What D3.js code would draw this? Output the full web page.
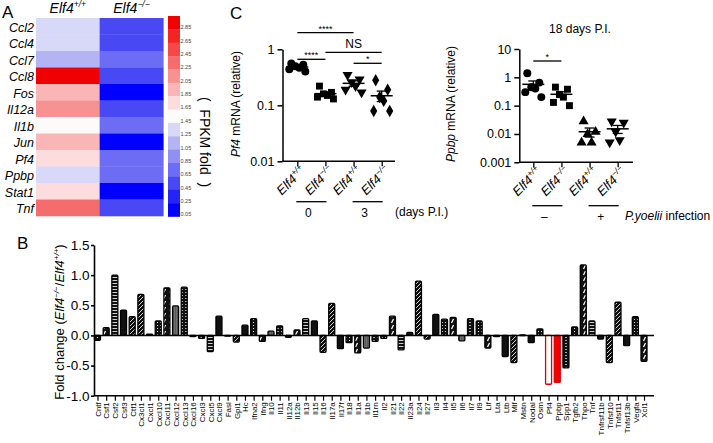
<!DOCTYPE html>
<html><head><meta charset="utf-8">
<script src="https://cdn.jsdelivr.net/npm/d3@7"></script>
<style>
body{margin:0;background:#fff;}
svg{font-family:Arial,"Liberation Sans",sans-serif;}
svg text{fill:#000;}
</style></head><body>
<svg id="chart" width="713" height="443"></svg>
<script>
// ---------------- Panel A data ----------------
const heatGenes = ["Ccl2","Ccl4","Ccl7","Ccl8","Fos","Il12a","Il1b","Jun","Pf4","Ppbp","Stat1","Tnf"];
const heatCols = ["+/+","−/−"];
const heatWT = [1.25,1.25,1.05,2.85,1.85,2.05,1.45,1.85,1.65,1.25,1.65,2.25];
const heatKO = [0.45,0.45,0.65,0.45,0.05,0.45,0.65,0.05,0.65,0.65,0.05,0.45];
const colorLevels = [2.85,2.65,2.45,2.25,2.05,1.85,1.65,1.45,1.25,1.05,0.85,0.65,0.45,0.25,0.05];
const colorSteps = ["#f00000","#f42424","#f54848","#f56c6c","#f79292","#fab6b6","#fcdcdc","#fdfafa","#d8d8f8","#b4b4f4","#9090f2","#6c6cf4","#4848f4","#2424f8","#0000ff"];

// ---------------- Panel B data ----------------
const genesB = ["Cntf","Csf1","Csf2","Csf3","Ctf1","Cx3cl1","Cxcl1","Cxcl10","Cxcl11","Cxcl12","Cxcl13","Cxcl16","Cxcl3","Cxcl5","Cxcl9","Fasl","Gpi1","Hc","Ifna2","Ifng","Il10","Il11","Il12a","Il12b","Il13","Il15","Il16","Il17a","Il17f","Il18","Il1a","Il1b","Il1rn","Il2","Il21","Il22","Il23a","Il24","Il27","Il3","Il4","Il5","Il6","Il7","Il9","Lif","Lta","Ltb","Mif","Mstn","Nodal","Osm","Pf4","Ppbp","Spp1","Tgfb2","Thpo","Tnf","Tnfrsf11b","Tnfsf10","Tnfsf11","Tnfsf13b","Vegfa","Xcl1"];
const foldB = [-0.08,0.13,1.0,0.42,0.31,0.68,0.02,0.24,0.79,0.49,0.80,-0.02,-0.05,-0.27,0.32,-0.01,-0.11,0.17,0.28,-0.10,0.07,0.16,-0.03,0.09,0.28,0.24,-0.28,0.53,-0.22,-0.12,-0.29,-0.21,-0.10,-0.05,0.32,-0.24,0.05,0.90,-0.06,0.35,0.27,0.30,-0.09,0.28,0.24,-0.21,-0.02,-0.35,-0.45,0.01,-0.12,0.11,-0.81,-0.78,-0.54,0.14,1.17,0.24,-0.06,-0.45,0.55,-0.17,0.31,-0.43];
const ticksB = [-1.0,-0.5,0.0,0.5,1.0,1.5];
const tickLabelsB = ["-1.0","-0.5","0.0","0.5","1.0","1.5"];

// ---------------- Panel C data ----------------
const groupGeno = ["+/+","−/−","+/+","−/−"];
const pf4Groups = [
  [0.56,0.53,0.50,0.47,0.44,0.40],
  [0.22,0.17,0.16,0.15,0.14,0.13],
  [0.35,0.29,0.26,0.22,0.19,0.17],
  [0.28,0.19,0.14,0.12,0.079,0.079]
];
const ppbpGroups = [
  [1.4,0.65,0.45,0.40,0.30,0.20],
  [0.45,0.38,0.25,0.20,0.13,0.10],
  [0.028,0.012,0.010,0.005,0.005],
  [0.028,0.025,0.012,0.006,0.005]
];
const pf4Ticks = [0.01,0.1,1];
const ppbpTicks = [0.001,0.01,0.1,1,10];
const pf4TickLabels = ["0.01","0.1","1"];
const ppbpTickLabels = ["0.001","0.01","0.1","1","10"];
const pf4Sig = [[0,2,"****"],[0,1,"****"],[1,3,"NS"],[2,3,"*"]];
const ppbpSig = [[0,1,"*"]];
const daysLabels = ["0","3"];
const infLabels = ["–","+"];

const svg = d3.select("#chart");
svg.append("rect").attr("width",713).attr("height",443).attr("fill","#fff");

function panelLetter(t,x,y){
  svg.append("text").attr("x",x).attr("y",y).attr("font-size",17).text(t);
}
function elf4(sel, geno, fs, sfs){
  sel.append("tspan").attr("font-style","italic").text("Elf4");
  sel.append("tspan").attr("font-style","italic").attr("font-size",sfs).attr("dy",-fs*0.4).text(geno);
}

// ================= Panel A =================
panelLetter("A",2,18);
const xA = d3.scaleBand().domain(heatCols).range([36,163.3]);
const yA = d3.scaleBand().domain(heatGenes).range([18,216]);
const colA = d3.scaleOrdinal(colorLevels,colorSteps);
const gA = svg.append("g");
heatGenes.forEach((g,i)=>{
  [heatWT[i],heatKO[i]].forEach((v,j)=>{
    gA.append("rect").attr("x",xA(heatCols[j])).attr("y",yA(g))
      .attr("width",xA.bandwidth()+0.3).attr("height",yA.bandwidth()+0.3).attr("fill",colA(v));
  });
  gA.append("text").attr("x",34).attr("y",yA(g)+yA.bandwidth()/2+1).attr("dy","0.35em")
    .attr("text-anchor","end").attr("font-style","italic").attr("font-size",12.5).text(g);
});
heatCols.forEach(c=>{
  const t = gA.append("text").attr("x",xA(c)+xA.bandwidth()/2).attr("y",13).attr("text-anchor","middle").attr("font-size",14);
  elf4(t,c,14,8.5);
});
const yCB = d3.scaleBand().domain(colorLevels).range([16,216.5]);
colorLevels.forEach(l=>{
  gA.append("rect").attr("x",168).attr("y",yCB(l)).attr("width",12).attr("height",yCB.bandwidth()+0.3).attr("fill",colA(l));
  gA.append("text").attr("x",180.5).attr("y",yCB(l)+yCB.bandwidth()-2).attr("dy","0.35em")
    .attr("font-size",5.5).style("fill","#444").text(l.toFixed(2));
});
gA.append("text").attr("transform","translate(200,142) rotate(90)").attr("text-anchor","middle")
  .attr("font-size",14).attr("xml:space","preserve").text("(  FPKM fold  )");

// ================= Panel B =================
panelLetter("B",17,249);
const gB = svg.append("g");
const yB = d3.scaleLinear().domain([-1,1.5]).range([395.7,245]);
const xB = d3.scalePoint().domain(genesB).range([97.5,644]);
const defs = svg.append("defs");
function pat(id,w,h,draw){
  const p = defs.append("pattern").attr("id",id).attr("patternUnits","userSpaceOnUse").attr("width",w).attr("height",h);
  p.append("rect").attr("width",w).attr("height",h).attr("fill","#111");
  draw(p);
}
pat("p0",3,3,p=>p.append("rect").attr("x",0).attr("y",1).attr("width",3).attr("height",0.8).attr("fill","#fff"));
pat("p1",4,4,p=>p.append("path").attr("d","M0,4L4,0").attr("stroke","#fff").attr("stroke-width",0.8));
pat("p2",3,3,p=>p.append("circle").attr("cx",1.5).attr("cy",1.5).attr("r",0.55).attr("fill","#fff"));
pat("p3",6,6,p=>p.append("path").attr("d","M1.5,5L3.5,1").attr("stroke","#fff").attr("stroke-width",1.3));
pat("p4",4,3,p=>p.append("rect").attr("x",1.2).attr("y",1).attr("width",1.6).attr("height",0.8).attr("fill","#fff"));
pat("p5",2,4,p=>p.append("rect").attr("x",0.6).attr("y",0).attr("width",0.7).attr("height",4).attr("fill","#fff"));
const fills = ["url(#p2)","url(#p3)","url(#p0)","#111","url(#p1)","url(#p1)","#111","url(#p2)","url(#p3)","url(#p5)","url(#p4)"];
genesB.forEach((g,i)=>{
  const v = foldB[i];
  let fill = fills[i%fills.length], stroke = "#000";
  if(g==="Pf4"){fill="#fff";stroke="#e00000";}
  if(g==="Ppbp"){fill="#f00000";stroke="#e00000";}
  gB.append("rect").attr("x",xB(g)-3).attr("y",yB(Math.max(0,v)))
    .attr("width",6).attr("height",Math.max(0.8,Math.abs(yB(v)-yB(0))))
    .attr("rx",1).attr("fill",fill).attr("stroke",stroke).attr("stroke-width",1.3);
});
gB.append("line").attr("x1",94).attr("x2",654).attr("y1",yB(0)).attr("y2",yB(0)).attr("stroke","#000").attr("stroke-width",1.5);
const axL = gB.append("g").attr("transform","translate(94,0)")
  .call(d3.axisLeft(yB).tickValues(ticksB).tickFormat((d,i)=>tickLabelsB[i]).tickSize(3).tickPadding(1.5).tickSizeOuter(0));
axL.attr("font-size",13.5).attr("font-family",null);
axL.selectAll("path,line").attr("stroke","#000").attr("stroke-width",1.6);
const axB = gB.append("g").attr("transform",`translate(0,${yB(-1)})`)
  .call(d3.axisBottom(xB).tickSize(5).tickSizeOuter(0));
axB.attr("font-size",8).attr("font-family",null);
axB.select(".domain").remove();
gB.append("line").attr("x1",94).attr("x2",654).attr("y1",yB(-1)).attr("y2",yB(-1)).attr("stroke","#000").attr("stroke-width",1.6);
axB.selectAll("line").attr("stroke","#000").attr("stroke-width",1.2);
axB.selectAll("text").attr("transform","rotate(-90)").attr("x",-6.5).attr("y",0).attr("dy","0.35em")
  .attr("text-anchor","end");
{
  const t = gB.append("text").attr("transform","translate(64,322) rotate(-90)").attr("text-anchor","middle").attr("font-size",13);
  t.append("tspan").text("Fold change (");
  t.append("tspan").attr("font-style","italic").text("Elf4");
  t.append("tspan").attr("font-style","italic").attr("font-size",8).attr("dy",-5).text("−/−");
  t.append("tspan").attr("dy",5).text("/");
  t.append("tspan").attr("font-style","italic").text("Elf4");
  t.append("tspan").attr("font-style","italic").attr("font-size",8).attr("dy",-5).text("+/+");
  t.append("tspan").attr("dy",5).text(")");
}

// ================= Panel C =================
panelLetter("C",230,19);
const shapesL = [d3.symbolCircle,d3.symbolSquare,d3.symbolTriangle,d3.symbolDiamond];
const rotL = [0,0,180,0];
const shapesR = [d3.symbolCircle,d3.symbolSquare,d3.symbolTriangle,d3.symbolTriangle];
const rotR = [0,0,0,180];
const jitter = [-6,6,-2,2,-8,8];

function scatterPanel(o){
  const g = svg.append("g");
  const y = d3.scaleLog().domain(o.domain).range([o.yBottom,o.yTop]);
  const x = d3.scalePoint().domain(d3.range(o.groups.length)).range(o.xRange);
  const ax = g.append("g").attr("transform",`translate(${o.xAxis},0)`)
    .call(d3.axisLeft(y).tickValues(o.ticks).tickFormat((d,i)=>o.tickLabels[i]).tickSize(5).tickSizeOuter(0));
  ax.attr("font-size",12.5).attr("font-family",null);
  ax.selectAll("path,line").attr("stroke","#000").attr("stroke-width",1.5);
  const bx = g.append("g").attr("transform",`translate(0,${o.yBottom})`)
    .call(d3.axisBottom(x).tickSize(5).tickSizeOuter(0).tickFormat(""));
  bx.select(".domain").remove();
  bx.selectAll("line").attr("stroke","#000").attr("stroke-width",1.3);
  g.append("line").attr("x1",o.xAxis).attr("x2",o.xEnd).attr("y1",o.yBottom).attr("y2",o.yBottom).attr("stroke","#000").attr("stroke-width",1.5);
  const yl = g.append("text").attr("transform",`translate(${o.ylx},${o.yly}) rotate(-90)`).attr("text-anchor","middle").attr("font-size",12);
  yl.append("tspan").attr("font-style","italic").text(o.gene);
  yl.append("tspan").text(" mRNA (relative)");
  o.groups.forEach((vals,gi)=>{
    const cx = x(gi);
    const sym = d3.symbol().type(o.shapes[gi]).size(o.shapes[gi]===d3.symbolCircle?50:(o.shapes[gi]===d3.symbolSquare?48:44));
    vals.forEach((v,k)=>{
      g.append("path").attr("d",sym()).attr("fill","#000")
        .attr("transform",`translate(${cx+jitter[k%jitter.length]},${y(v)}) rotate(${o.rot[gi]})`);
    });
    const m = d3.mean(vals), se = d3.deviation(vals)/Math.sqrt(vals.length);
    g.append("line").attr("x1",cx-11).attr("x2",cx+11).attr("y1",y(m)).attr("y2",y(m)).attr("stroke","#000").attr("stroke-width",1.5);
    [m+se,m-se].forEach(b=>g.append("line").attr("x1",cx-5).attr("x2",cx+5).attr("y1",y(b)).attr("y2",y(b)).attr("stroke","#000").attr("stroke-width",1.3));
    g.append("line").attr("x1",cx).attr("x2",cx).attr("y1",y(m+se)).attr("y2",y(m-se)).attr("stroke","#000").attr("stroke-width",1.3);
    const t = g.append("text").attr("transform",`translate(${cx+9},${o.yBottom+10}) rotate(-45)`).attr("text-anchor","end").attr("font-size",13);
    elf4(t,groupGeno[gi],13,8.5);
  });
  o.sig.forEach((s,i)=>{
    const ly = o.sigY[i];
    g.append("line").attr("x1",x(s[0])).attr("x2",x(s[1])).attr("y1",ly).attr("y2",ly).attr("stroke","#000").attr("stroke-width",1.3);
    const isAst = s[2].indexOf("*")>=0;
    g.append("text").attr("x",(x(s[0])+x(s[1]))/2).attr("y",isAst?ly-1:ly-4).attr("text-anchor","middle")
      .attr("font-size",isAst?9:12).text(s[2]);
  });
  o.pairLabels.forEach((lab,i)=>{
    const x1 = x(2*i)-1, x2 = x(2*i+1)+1;
    g.append("line").attr("x1",x1).attr("x2",x2).attr("y1",o.pairY).attr("y2",o.pairY).attr("stroke","#000").attr("stroke-width",1.3);
    g.append("text").attr("x",(x1+x2)/2-3).attr("y",o.pairY+15).attr("text-anchor","middle").attr("font-size",12).text(lab);
  });
  return {g,x,y};
}

const L = scatterPanel({groups:pf4Groups,domain:[0.01,1],yBottom:161.3,yTop:49.3,xRange:[297.3,381.7],xAxis:282.5,xEnd:395,
  ticks:pf4Ticks,tickLabels:pf4TickLabels,gene:"Pf4",ylx:240,yly:104,shapes:shapesL,rot:rotL,
  sig:pf4Sig,sigY:[32.7,59.3,52.3,63.3],pairLabels:daysLabels,pairY:201.7});
L.g.append("text").attr("x",395).attr("y",216).attr("font-size",12).text("(days P.I.)");

const R = scatterPanel({groups:ppbpGroups,domain:[0.001,10],yBottom:162.3,yTop:49,xRange:[533.3,617.7],xAxis:519.3,xEnd:633,
  ticks:ppbpTicks,tickLabels:ppbpTickLabels,gene:"Ppbp",ylx:455,yly:104,shapes:shapesR,rot:rotR,
  sig:ppbpSig,sigY:[61],pairLabels:infLabels,pairY:205.7});
R.g.append("text").attr("x",580).attr("y",33).attr("text-anchor","middle").attr("font-size",12).text("18 days P.I.");
{
  const t = R.g.append("text").attr("x",625).attr("y",220).attr("font-size",12);
  t.append("tspan").attr("font-style","italic").text("P.yoelii");
  t.append("tspan").text(" infection");
}
</script>
</body></html>
